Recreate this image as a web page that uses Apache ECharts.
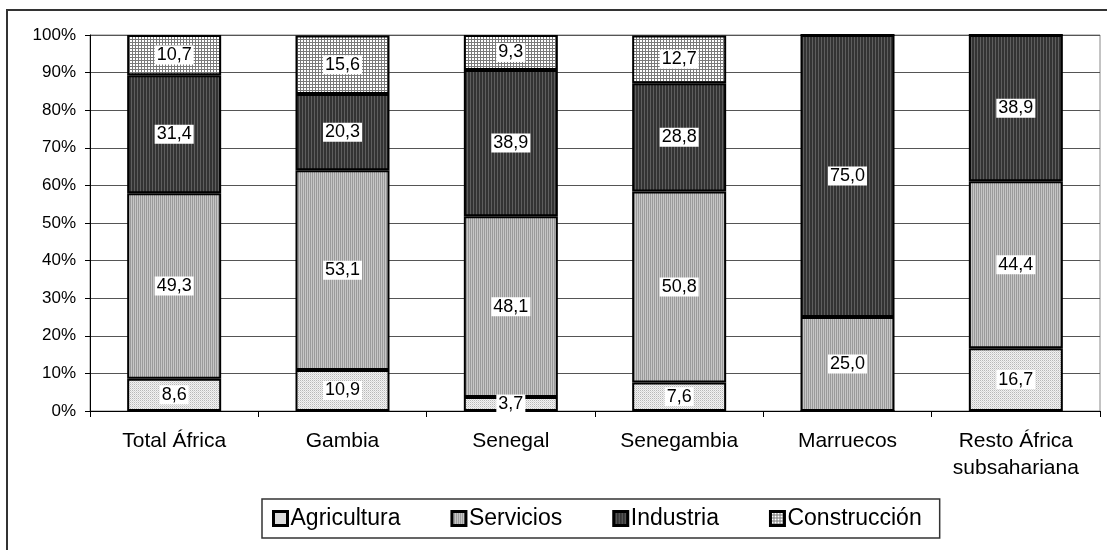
<!DOCTYPE html>
<html>
<head>
<meta charset="utf-8">
<script src="https://cdn.jsdelivr.net/npm/echarts@6/dist/echarts.min.js"></script>
<style>
html,body{margin:0;padding:0;background:#fff;}
#chart{width:1107px;height:550px;}
</style>
</head>
<body>
<div id="chart"></div>
<script>
var categories = ['Total África', 'Gambia', 'Senegal', 'Senegambia', 'Marruecos', 'Resto África\nsubsahariana'];
var seriesNames = ['Agricultura', 'Servicios', 'Industria', 'Construcción'];
var agricultura = [8.6, 10.9, 3.7, 7.6, 0, 16.7];
var servicios = [49.3, 53.1, 48.1, 50.8, 25.0, 44.4];
var industria = [31.4, 20.3, 38.9, 28.8, 75.0, 38.9];
var construccion = [10.7, 15.6, 9.3, 12.7, 0, 0];
var yTicks = [0, 10, 20, 30, 40, 50, 60, 70, 80, 90, 100];

var FONT = 'Arial, "Liberation Sans", sans-serif';

function makePattern(w, h, draw) {
  var c = document.createElement('canvas');
  c.width = w; c.height = h;
  var ctx = c.getContext('2d');
  draw(ctx);
  return {image: c, repeat: 'repeat'};
}
var patAgri = makePattern(2, 2, function (ctx) {
  ctx.fillStyle = '#f2f2f2'; ctx.fillRect(0, 0, 2, 2);
  ctx.fillStyle = '#b8b8b8'; ctx.fillRect(0, 0, 1, 1);
  ctx.fillStyle = '#d8d8d8'; ctx.fillRect(1, 1, 1, 1);
});
var patServ = makePattern(2, 1, function (ctx) {
  ctx.fillStyle = '#c6c6c6'; ctx.fillRect(0, 0, 2, 1);
  ctx.fillStyle = '#9a9a9a'; ctx.fillRect(0, 0, 1, 1);
});
var patInd = makePattern(3, 1, function (ctx) {
  ctx.fillStyle = '#333333'; ctx.fillRect(0, 0, 3, 1);
  ctx.fillStyle = '#5e5e5e'; ctx.fillRect(2, 0, 1, 1);
});
var patCons = makePattern(3, 3, function (ctx) {
  ctx.fillStyle = '#ffffff'; ctx.fillRect(0, 0, 3, 3);
  ctx.fillStyle = '#7a7a7a'; ctx.fillRect(0, 0, 3, 1); ctx.fillRect(0, 0, 1, 3);
});
var patterns = [patAgri, patServ, patInd, patCons];
var values = [agricultura, servicios, industria, construccion];

function fmt(p) { return p.value.toFixed(1).replace('.', ','); }

var series = seriesNames.map(function (name, i) {
  return {
    name: name,
    type: 'bar',
    stack: 'total',
    barWidth: 94,
    itemStyle: {color: patterns[i], borderColor: '#000', borderWidth: 2},
    label: {
      show: true,
      position: 'inside',
      formatter: fmt,
      color: '#000',
      fontSize: 18,
      fontFamily: FONT,
      backgroundColor: '#fff',
      padding: [1, 2, 0, 2]
    },
    data: values[i].map(function (v) {
      return v === 0 ? {value: v, label: {show: false}} : v;
    })
  };
});

var chart = echarts.init(document.getElementById('chart'), null, {renderer: 'canvas'});
chart.setOption({
  animation: false,
  backgroundColor: '#fff',
  grid: {left: 90, right: 7, top: 35, bottom: 139, show: true, borderColor: '#888', borderWidth: 1},
  xAxis: {
    type: 'category',
    data: categories,
    axisLine: {lineStyle: {color: '#000', width: 1}},
    axisTick: {show: true, length: 6, interval: 0, lineStyle: {color: '#000'}},
    axisLabel: {interval: 0, margin: 17, color: '#000', fontSize: 21, fontFamily: FONT, lineHeight: 27}
  },
  yAxis: {
    type: 'value',
    min: yTicks[0],
    max: yTicks[yTicks.length - 1],
    interval: yTicks[1] - yTicks[0],
    axisLine: {show: true, lineStyle: {color: '#000', width: 1}},
    axisTick: {show: true, length: 5, lineStyle: {color: '#000'}},
    splitLine: {show: true, lineStyle: {color: '#555', width: 1}},
    axisLabel: {margin: 14, color: '#000', fontSize: 17, fontFamily: FONT, formatter: '{value}%'}
  },
  legend: {
    data: seriesNames.map(function (n) {
      return {name: n, itemStyle: {borderColor: '#000', borderWidth: 3}};
    }),
    left: 262,
    top: 499,
    orient: 'horizontal',
    icon: 'rect',
    itemWidth: 14,
    itemHeight: 14,
    itemGap: 50,
    padding: [8, 18, 8, 10],
    borderColor: '#333',
    borderWidth: 1.5,
    itemStyle: {borderColor: '#000', borderWidth: 3},
    textStyle: {color: '#000', fontSize: 23, fontFamily: FONT, padding: [0, 0, 0, -2]}
  },
  graphic: [{
    type: 'rect',
    silent: true,
    z: 100,
    shape: {x: 7, y: 10, width: 1300, height: 700},
    style: {fill: 'none', stroke: '#333', lineWidth: 2}
  }],
  series: series
});
</script>
</body>
</html>
